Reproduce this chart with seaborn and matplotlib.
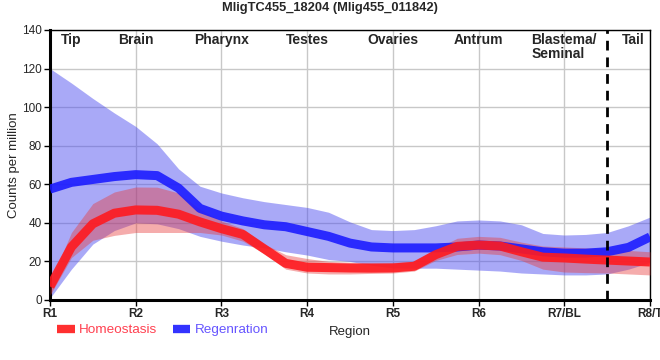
import numpy as np
import pandas as pd
import matplotlib
matplotlib.use("Agg")
import matplotlib.pyplot as plt
from matplotlib.lines import Line2D
import seaborn as sns

# ---- data (quarter-region steps) ----
x_pos = [1.0, 1.25, 1.5, 1.75, 2.0, 2.25, 2.5, 2.75, 3.0, 3.25, 3.5, 3.75, 4.0, 4.25,
         4.5, 4.75, 5.0, 5.25, 5.5, 5.75, 6.0, 6.25, 6.5, 6.75, 7.0, 7.25, 7.5, 7.75, 8.0]

homeo_mean = [7, 27.5, 39.5, 45, 46.7, 46.5, 44.5, 40.5, 37, 34, 26.5, 19, 17, 16.8,
              16.6, 16.5, 16.6, 17.5, 23.5, 27.8, 28.5, 28, 25, 22.2, 21.8, 21.2, 20.7, 20.2, 19.7]
homeo_high = [9, 35, 50, 56, 58.6, 58.5, 55.5, 47, 41, 37, 29, 23.5, 21.5, 20,
              19.5, 19.5, 19.5, 20, 26.5, 32, 33, 32.5, 30, 28, 27.5, 27, 26.4, 25.7, 25]
homeo_low = [2.5, 22, 31, 33.5, 35, 35, 35, 35, 33.7, 30.5, 24, 16, 14, 13.5,
             13.5, 13.8, 14, 15, 20.5, 23.6, 24.3, 23.5, 20.5, 16, 14.5, 14.2, 14, 13.5, 13]

regen_mean = [57.5, 61, 62.5, 64, 65, 64.5, 58, 47.5, 43.5, 41, 39, 38, 35.5, 33,
              29.5, 27.5, 27, 27, 27, 27.5, 28.5, 28, 26.5, 25, 24.3, 24.3, 25, 27.3, 32.7]
regen_high = [120, 112.5, 104.5, 97, 90, 81, 68, 59, 55.5, 53, 51, 49.5, 48, 45.5,
              40.5, 36.5, 36, 36.5, 38.5, 41, 41.5, 41, 39, 34.5, 33.7, 34, 35, 38.5, 43]
regen_low = [1, 16, 29, 36, 40, 39.5, 37, 33, 30.5, 28.5, 27, 25, 23.3, 21,
             20, 18, 16.6, 16.5, 16.5, 16, 15.5, 15, 14, 13.5, 13, 13, 13.5, 16, 19.5]

tick_labels = ["R1", "R2", "R3", "R4", "R5", "R6", "R7/BL", "R8/T"]
region_names = ["Tip", "Brain", "Pharynx", "Testes", "Ovaries", "Antrum", "Blastema/\nSeminal", "Tail"]
series_names = ["Homeostasis", "Regenration"]

# ---- styling ----
sns.set_theme(style="white")
plt.rcParams["font.family"] = ["Liberation Sans", "DejaVu Sans"]

red = "#ff1a1f"
blue = "#1c1cff"
red_band = "#e83a3a"
blue_band = "#4a4af0"

fig = plt.figure(figsize=(6.6, 3.6), dpi=100)
ax = fig.add_axes([50 / 660, 1 - 300 / 360, 600 / 660, 270 / 360])

df = pd.DataFrame({
    "x": x_pos * 2,
    "y": homeo_mean + regen_mean,
    "series": [series_names[0]] * len(x_pos) + [series_names[1]] * len(x_pos),
})

ax.fill_between(x_pos, regen_low, regen_high, color=blue_band, alpha=0.47, lw=0, zorder=2)
ax.fill_between(x_pos, homeo_low, homeo_high, color=red_band, alpha=0.42, lw=0, zorder=3)

sns.lineplot(data=df[df.series == series_names[1]], x="x", y="y", color=blue, lw=6.5,
             alpha=0.9, ax=ax, zorder=4, legend=False, solid_capstyle="butt",
             solid_joinstyle="round")
sns.lineplot(data=df[df.series == series_names[0]], x="x", y="y", color=red, lw=6.5,
             alpha=0.9, ax=ax, zorder=5, legend=False, solid_capstyle="butt",
             solid_joinstyle="round")

ax.axvline(7.5, color="black", lw=2, ls=(0, (3.5, 2.5)), zorder=6)

ax.set_xlim(1, 8)
ax.set_ylim(0, 140)
ax.set_xticks(range(1, 9))
ax.set_xticklabels(tick_labels, fontsize=8.5, fontweight="bold")
ax.set_yticks(range(0, 141, 20))
ax.set_yticklabels([str(v) for v in range(0, 141, 20)], fontsize=8.5)
ax.tick_params(axis="both", direction="out", length=4, width=1, color="black", pad=2, bottom=True, left=True)
ax.grid(True, color="#c8c8c8", lw=1, zorder=0)
ax.set_axisbelow(True)

for side in ["left", "bottom"]:
    ax.spines[side].set_linewidth(2.2)
    ax.spines[side].set_color("black")
for side in ["top", "right"]:
    ax.spines[side].set_linewidth(1)
    ax.spines[side].set_color("black")
    ax.spines[side].set_visible(True)

ax.set_xlabel("Region", fontsize=9.5, labelpad=4)
ax.set_ylabel("Counts per million", fontsize=9.5)
ax.yaxis.set_label_coords(-0.05, 0.5)

name_x = [1.25, 2.0, 3.0, 4.0, 5.0, 6.0, 7.0, 7.8]
for nx, name in zip(name_x, region_names):
    ax.text(nx, 138.5, name, ha="center", va="top", fontsize=10, fontweight="bold",
            multialignment="left", zorder=7, linespacing=1.0)

fig.suptitle("MligTC455_18204 (Mlig455_011842)", fontsize=9.3, fontweight="bold", y=0.995, x=0.5)

handles = [Line2D([0], [0], color="#ff3030", lw=6, solid_capstyle="butt"),
           Line2D([0], [0], color="#3333ff", lw=6, solid_capstyle="butt")]
fig.legend(handles, series_names, loc="center left", bbox_to_anchor=(0.068, 0.083), ncol=2,
           frameon=False, fontsize=9.7, handlelength=1.3, handletextpad=0.3, columnspacing=1.2,
           labelcolor=["#ff4050", "#6655ff"])

fig.savefig("out.png", dpi=100)
